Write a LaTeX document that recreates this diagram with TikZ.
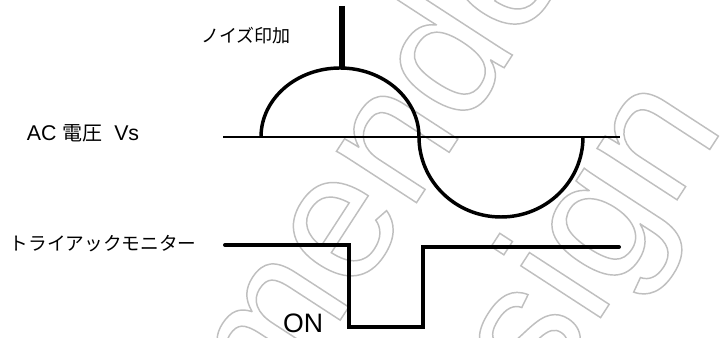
\documentclass[tikz,border=0pt]{standalone}
\usepackage{fontspec}
\setmainfont{Liberation Sans}
\newfontfamily\jp{Noto Sans CJK JP}
\newcommand{\outlinetext}[1]{\special{pdf:literal direct 1 Tr 1.1 w 0.75 0.75 0.75 RG}#1\special{pdf:literal direct 0 Tr}}
\begin{document}
\begin{tikzpicture}[x=0.75pt,y=0.75pt,
  lbl/.style={inner sep=0pt, font=\jp\fontsize{13.5pt}{14pt}\selectfont},
  axisline/.style={line width=1.5pt},
  wave/.style={line width=2.6pt},
  mon/.style={line width=3pt, line cap=round, line join=miter},
  spike/.style={line width=5pt},
  wmark/.style={inner sep=0pt, rotate=57, text=black!25, font=\fontsize{135pt}{135pt}\selectfont}]
\useasboundingbox (0,0) rectangle (721,338);
% watermark
\begin{scope}
\node[wmark, anchor=base east] (wm1) at (628,461) {\outlinetext{Recommended}};
\node[wmark, anchor=base east] (wm2) at (725,212) {\outlinetext{design}};
\end{scope}
% labels
\node[lbl] (noise) at (246,302) {ノイズ印加};
\node[lbl, font=\fontsize{16pt}{17pt}\selectfont] (ac) at (83,205) {AC {\jp\fontsize{15pt}{16pt}\selectfont 電圧}\ \ Vs};
\node[lbl, font=\jp\fontsize{14pt}{15pt}\selectfont] (mon) at (103,94) {トライアックモニター};
\node[inner sep=0pt, font=\fontsize{20pt}{22pt}\selectfont] (on) at (303,15) {ON};
% AC axis
\coordinate (axL) at (223,201);
\coordinate (axR) at (620,201);
\draw[axisline] (axL) -- (axR);
% sine wave
\coordinate (w0) at (261,201);
\draw[wave] (w0) arc[start angle=180, end angle=0, x radius=79, y radius=69]
  arc[start angle=180, end angle=360, x radius=82, y radius=80];
% noise spike
\coordinate (sTop) at (342,332);
\coordinate (sBot) at (342,270);
\draw[spike] (sTop) -- (sBot);
% triac monitor
\coordinate (m0) at (225,93);
\coordinate (m1) at (349,93);
\coordinate (m2) at (349,11);
\coordinate (m3) at (423,11);
\coordinate (m4) at (423,91);
\coordinate (m5) at (619,91);
\draw[mon] (m0) -- (m1) -- (m2) -- (m3) -- (m4) -- (m5);
\end{tikzpicture}
\end{document}
